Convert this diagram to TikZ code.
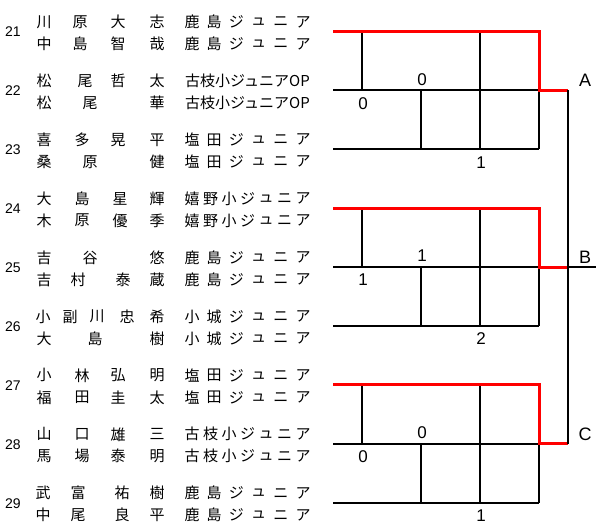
\documentclass[tikz,border=0pt]{standalone}
\usepackage{fontspec}
\setmainfont{Liberation Sans}
\newfontfamily\jpfont{Noto Sans CJK JP}
\usetikzlibrary{calc}

% one line of a name, each character at its own x
\newcommand{\nameline}[3]{\foreach \ch/\cx [count=\i] in {#3} {\node[jpchar] (#1-\i) at (\cx,#2) {\ch};}}
% one line of a team, characters spread from x=192 to x=303
\newcommand{\teamline}[4]{\foreach \ch [count=\i] in {#4} {\node[jpchar] (#1-\i) at ({192+(\i-1)*111/(#3-1)},#2) {\ch};}}

\begin{document}
\begin{tikzpicture}[x=1pt,y=-1pt]
\tikzstyle{jpchar}=[inner sep=0pt,font=\jpfont\fontsize{15}{15}\selectfont]
\tikzstyle{num}=[inner sep=0pt,font=\fontsize{14}{14}\selectfont]
\tikzstyle{score}=[inner sep=0pt,font=\fontsize{17}{17}\selectfont]
\tikzstyle{grp}=[inner sep=0pt,font=\fontsize{18}{18}\selectfont]
\tikzstyle{bline}=[line width=2pt]
\tikzstyle{rline}=[line width=3pt,red]

\useasboundingbox (0,0) rectangle (596,524);

% row numbers
\foreach \r [count=\j from 0] in {21,...,29} {
  \node[num] (r\r) at (13,{32+58.9*\j}) {\r};
}

% names
\nameline{n21a}{22}{川/44, 原/80, 大/118, 志/157}
\nameline{n21b}{44}{中/44, 島/80, 智/118, 哉/157}
\nameline{n22a}{80.9}{松/44, 尾/85, 哲/118, 太/157}
\nameline{n22b}{102.9}{松/44, 尾/90, 華/157}
\nameline{n23a}{139.8}{喜/44, 多/82, 晃/118, 平/157}
\nameline{n23b}{161.8}{桑/44, 原/90, 健/157}
\nameline{n24a}{198.7}{大/44, 島/82, 星/120, 輝/157}
\nameline{n24b}{220.7}{木/44, 原/82, 優/120, 季/157}
\nameline{n25a}{257.6}{吉/44, 谷/90, 悠/157}
\nameline{n25b}{279.6}{吉/44, 村/78, 泰/123, 蔵/157}
\nameline{n26a}{316.5}{小/43, 副/70, 川/97, 忠/127, 希/157}
\nameline{n26b}{338.5}{大/44, 島/95, 樹/157}
\nameline{n27a}{375.4}{小/44, 林/82, 弘/118, 明/157}
\nameline{n27b}{397.4}{福/44, 田/82, 圭/118, 太/157}
\nameline{n28a}{434.3}{山/44, 口/82, 雄/118, 三/157}
\nameline{n28b}{456.3}{馬/44, 場/82, 泰/118, 明/157}
\nameline{n29a}{493.2}{武/43, 富/78, 祐/122, 樹/157}
\nameline{n29b}{515.2}{中/43, 尾/78, 良/122, 平/157}

% teams
\teamline{t21a}{22}{6}{鹿,島,ジ,ュ,ニ,ア}
\teamline{t21b}{44}{6}{鹿,島,ジ,ュ,ニ,ア}
\node[jpchar,anchor=west] (t22a) at (185,80.9) {古枝小ジュニアOP};
\node[jpchar,anchor=west] (t22b) at (185,102.9) {古枝小ジュニアOP};
\teamline{t23a}{139.8}{6}{塩,田,ジ,ュ,ニ,ア}
\teamline{t23b}{161.8}{6}{塩,田,ジ,ュ,ニ,ア}
\teamline{t24a}{198.7}{7}{嬉,野,小,ジ,ュ,ニ,ア}
\teamline{t24b}{220.7}{7}{嬉,野,小,ジ,ュ,ニ,ア}
\teamline{t25a}{257.6}{6}{鹿,島,ジ,ュ,ニ,ア}
\teamline{t25b}{279.6}{6}{鹿,島,ジ,ュ,ニ,ア}
\teamline{t26a}{316.5}{6}{小,城,ジ,ュ,ニ,ア}
\teamline{t26b}{338.5}{6}{小,城,ジ,ュ,ニ,ア}
\teamline{t27a}{375.4}{6}{塩,田,ジ,ュ,ニ,ア}
\teamline{t27b}{397.4}{6}{塩,田,ジ,ュ,ニ,ア}
\teamline{t28a}{434.3}{7}{古,枝,小,ジ,ュ,ニ,ア}
\teamline{t28b}{456.3}{7}{古,枝,小,ジ,ュ,ニ,ア}
\teamline{t29a}{493.2}{6}{鹿,島,ジ,ュ,ニ,ア}
\teamline{t29b}{515.2}{6}{鹿,島,ジ,ュ,ニ,ア}

% three blocks of the league
\foreach \k/\la/\lb/\lc/\lt in {0/0/0/1/A, 1/1/1/2/B, 2/0/0/1/C} {
  \pgfmathsetmacro\yt{31.5+176.7*\k}
  \pgfmathsetmacro\ym{\yt+58.9}
  \pgfmathsetmacro\yb{\yt+117.8}
  \draw[bline] (333,\ym) -- (539,\ym) (333,\yb) -- (539,\yb)
    (362,\yt) -- (362,\ym) (480,\yt) -- (480,\yb)
    (421,\ym) -- (421,\yb) (539,\ym) -- (539,\yb);
  \draw[rline] (333,\yt) -- (539,\yt) -- (539,\ym) -- (568,\ym);
  \node[score] (s\k a) at (422,\ym-11) {\la};
  \node[score] (s\k b) at (363,\ym+13) {\lb};
  \node[score] (s\k c) at (481,\yb+13) {\lc};
  \node[grp] (g\lt) at (585,\ym-10) {\lt};
}

\draw[bline] (568,90.4) -- (568,443.8);
\draw[bline] (568,267.1) -- (596,267.1);

\end{tikzpicture}
\end{document}
